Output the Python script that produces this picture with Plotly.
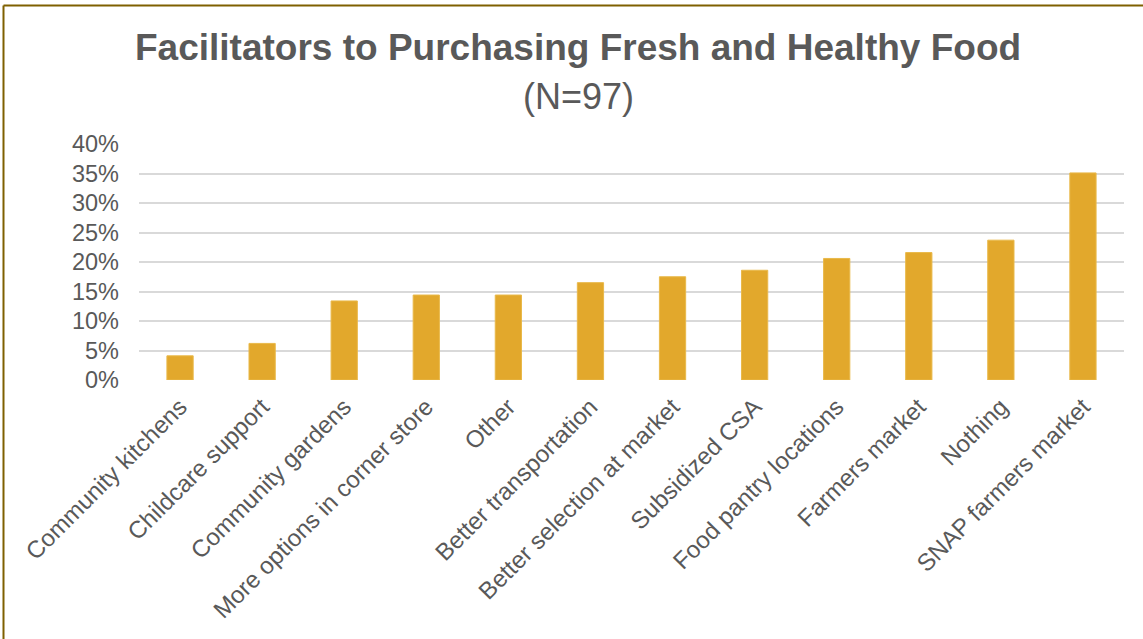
import plotly.graph_objects as go

categories = ["Community kitchens", "Childcare support", "Community gardens",
              "More options in corner store", "Other", "Better transportation",
              "Better selection at market", "Subsidized CSA", "Food pantry locations",
              "Farmers market", "Nothing", "SNAP farmers market"]
values = [0.041, 0.062, 0.134, 0.144, 0.144, 0.165, 0.175, 0.186, 0.206, 0.216, 0.237, 0.351]
tick_vals = [0, 0.05, 0.10, 0.15, 0.20, 0.25, 0.30, 0.35, 0.40]
tick_text = ["0%", "5%", "10%", "15%", "20%", "25%", "30%", "35%", "40%"]

FONT = "Arial, Liberation Sans, sans-serif"
GREY = "#595959"

W, H = 1143, 639
L, R, T, B = 139, 19, 144, 259
pw, ph = W - L - R, H - T - B

def px_x(x):
    return (x - L) / pw

def px_y(y):
    return (H - B - y) / ph

fig = go.Figure(go.Bar(
    x=categories, y=values,
    marker=dict(color="#E2A82C", line=dict(color="#E9B94A", width=1)),
))

fig.update_layout(
    width=W, height=H,
    margin=dict(l=L, r=R, t=T, b=B),
    paper_bgcolor="white", plot_bgcolor="white",
    bargap=0.68,
    showlegend=False,
    font=dict(family=FONT, color=GREY),
    xaxis=dict(tickangle=-45, tickfont=dict(size=24, color=GREY, family=FONT),
               showgrid=False, zeroline=False, showline=False, ticks="",
               ticklabelstandoff=7),
    yaxis=dict(range=[0, 0.4], tickvals=tick_vals, ticktext=tick_text,
               tickfont=dict(size=23.5, color=GREY, family=FONT),
               showgrid=True, gridcolor="#D9D9D9", gridwidth=1.5,
               zeroline=False, showline=False, ticks="", ticklabelstandoff=19),
    annotations=[
        dict(text="<b>Facilitators to Purchasing Fresh and Healthy Food</b>",
             x=px_x(578), y=px_y(47), xref="paper", yref="paper",
             showarrow=False, xanchor="center", yanchor="middle",
             font=dict(size=37, color=GREY, family=FONT)),
        dict(text="(N=97)",
             x=px_x(578), y=px_y(96), xref="paper", yref="paper",
             showarrow=False, xanchor="center", yanchor="middle",
             font=dict(size=36, color=GREY, family=FONT)),
    ],
    shapes=[
        dict(type="line", xref="paper", yref="paper",
             x0=px_x(3.5), x1=px_x(1143), y0=px_y(5.5), y1=px_y(5.5),
             line=dict(color="#7F6000", width=2)),
        dict(type="line", xref="paper", yref="paper",
             x0=px_x(3.5), x1=px_x(3.5), y0=px_y(5.5), y1=px_y(639),
             line=dict(color="#7F6000", width=2)),
    ],
)

fig.write_html("out.html",
               config={"displayModeBar": False},
               post_script="document.body.style.margin='0px';document.body.style.overflow='hidden';")
